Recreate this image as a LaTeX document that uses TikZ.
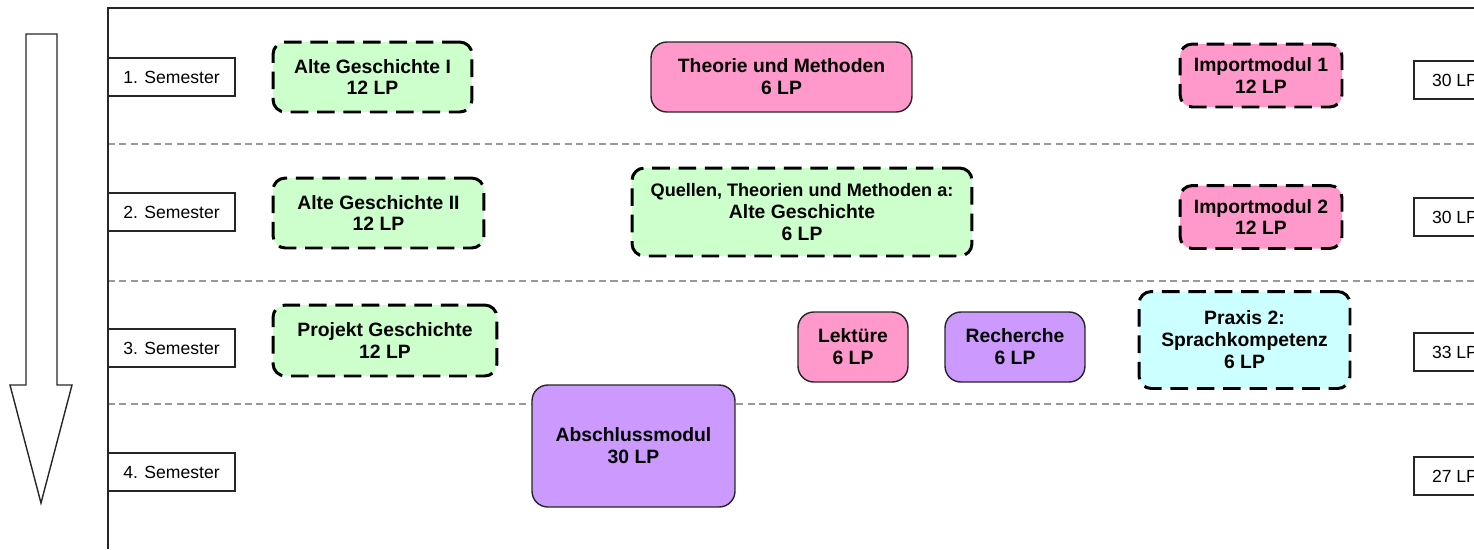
\documentclass[tikz,border=0pt]{standalone}
\usepackage{fontspec}
\setmainfont{Liberation Sans}
\definecolor{gruen}{HTML}{CCFFCC}
\definecolor{rosa}{HTML}{FF99CC}
\definecolor{lila}{HTML}{CC99FF}
\definecolor{tuerkis}{HTML}{CCFFFF}
\begin{document}
\begin{tikzpicture}[x=0.02cm,y=-0.02cm,
  modul/.style={draw=black!85,line width=0.8pt,rounded corners=9pt,align=center,inner sep=0pt,
    font=\bfseries\fontsize{11}{12.5}\selectfont},
  wahl/.style={modul,draw=black,line width=1.7pt,dash pattern=on 10pt off 5pt,rounded corners=7pt},
  sem/.style={draw=black!85,fill=white,line width=0.7pt,inner sep=0pt,minimum height=0.76cm,
    font=\fontsize{10}{12}\selectfont},
  trenner/.style={gray!80,line width=0.6pt,dash pattern=on 4pt off 2.5pt}]
\useasboundingbox (0,0) rectangle (1474,549);
\draw[black!85,line width=0.8pt] (26,34) -- (57,34) -- (57,385) -- (72,385) -- (41,503) -- (10,385) -- (26,385) -- cycle;
\draw[trenner] (108,144) -- (1474,144);
\draw[trenner] (108,281) -- (1474,281);
\draw[trenner] (108,404) -- (1474,404);
\draw[black!85,line width=0.9pt] (108,549) -- (108,8) -- (1474,8);
\node[sem,minimum width=2.54cm] (s1) at (171.5,77) {1. Semester};
\node[sem,minimum width=2.54cm] (s2) at (171.5,212) {2. Semester};
\node[sem,minimum width=2.54cm] (s3) at (171.5,348) {3. Semester};
\node[sem,minimum width=2.54cm] (s4) at (171.5,472) {4. Semester};
\node[sem,minimum width=1.64cm] (lp1) at (1455,80) {30 LP};
\node[sem,minimum width=1.64cm] (lp2) at (1455,217) {30 LP};
\node[sem,minimum width=1.64cm] (lp3) at (1455,352) {33 LP};
\node[sem,minimum width=1.64cm] (lp4) at (1455,476) {27 LP};
\node[wahl,fill=gruen,minimum width=3.98cm,minimum height=1.4cm] (ag1) at (372.5,77) {Alte Geschichte I\\12 LP};
\node[modul,fill=rosa,minimum width=5.22cm,minimum height=1.4cm] (tum) at (781.5,77) {Theorie und Methoden\\6 LP};
\node[wahl,fill=rosa,minimum width=3.24cm,minimum height=1.26cm] (imp1) at (1261,75.5) {Importmodul 1\\12 LP};
\node[wahl,fill=gruen,minimum width=4.22cm,minimum height=1.4cm] (ag2) at (378.5,213) {Alte Geschichte II\\12 LP};
\node[wahl,fill=gruen,minimum width=6.8cm,minimum height=1.76cm] (qtm) at (802,212) {{\fontsize{10.3}{12.5}\selectfont Quellen, Theorien und Methoden a:}\\Alte Geschichte\\6 LP};
\node[wahl,fill=rosa,minimum width=3.24cm,minimum height=1.26cm] (imp2) at (1261,217) {Importmodul 2\\12 LP};
\node[wahl,fill=gruen,minimum width=4.48cm,minimum height=1.42cm] (pg) at (385,340.5) {Projekt Geschichte\\12 LP};
\node[modul,fill=rosa,minimum width=2.2cm,minimum height=1.4cm] (lek) at (853,347) {Lektüre\\6 LP};
\node[modul,fill=lila,minimum width=2.8cm,minimum height=1.4cm] (rec) at (1015,347) {Recherche\\6 LP};
\node[wahl,fill=tuerkis,minimum width=4.22cm,minimum height=1.94cm] (prx) at (1244.5,340) {Praxis 2:\\Sprachkompetenz\\6 LP};
\node[modul,fill=lila,minimum width=4.06cm,minimum height=2.44cm] (abs) at (633.5,446) {Abschlussmodul\\30 LP};
\end{tikzpicture}
\end{document}
